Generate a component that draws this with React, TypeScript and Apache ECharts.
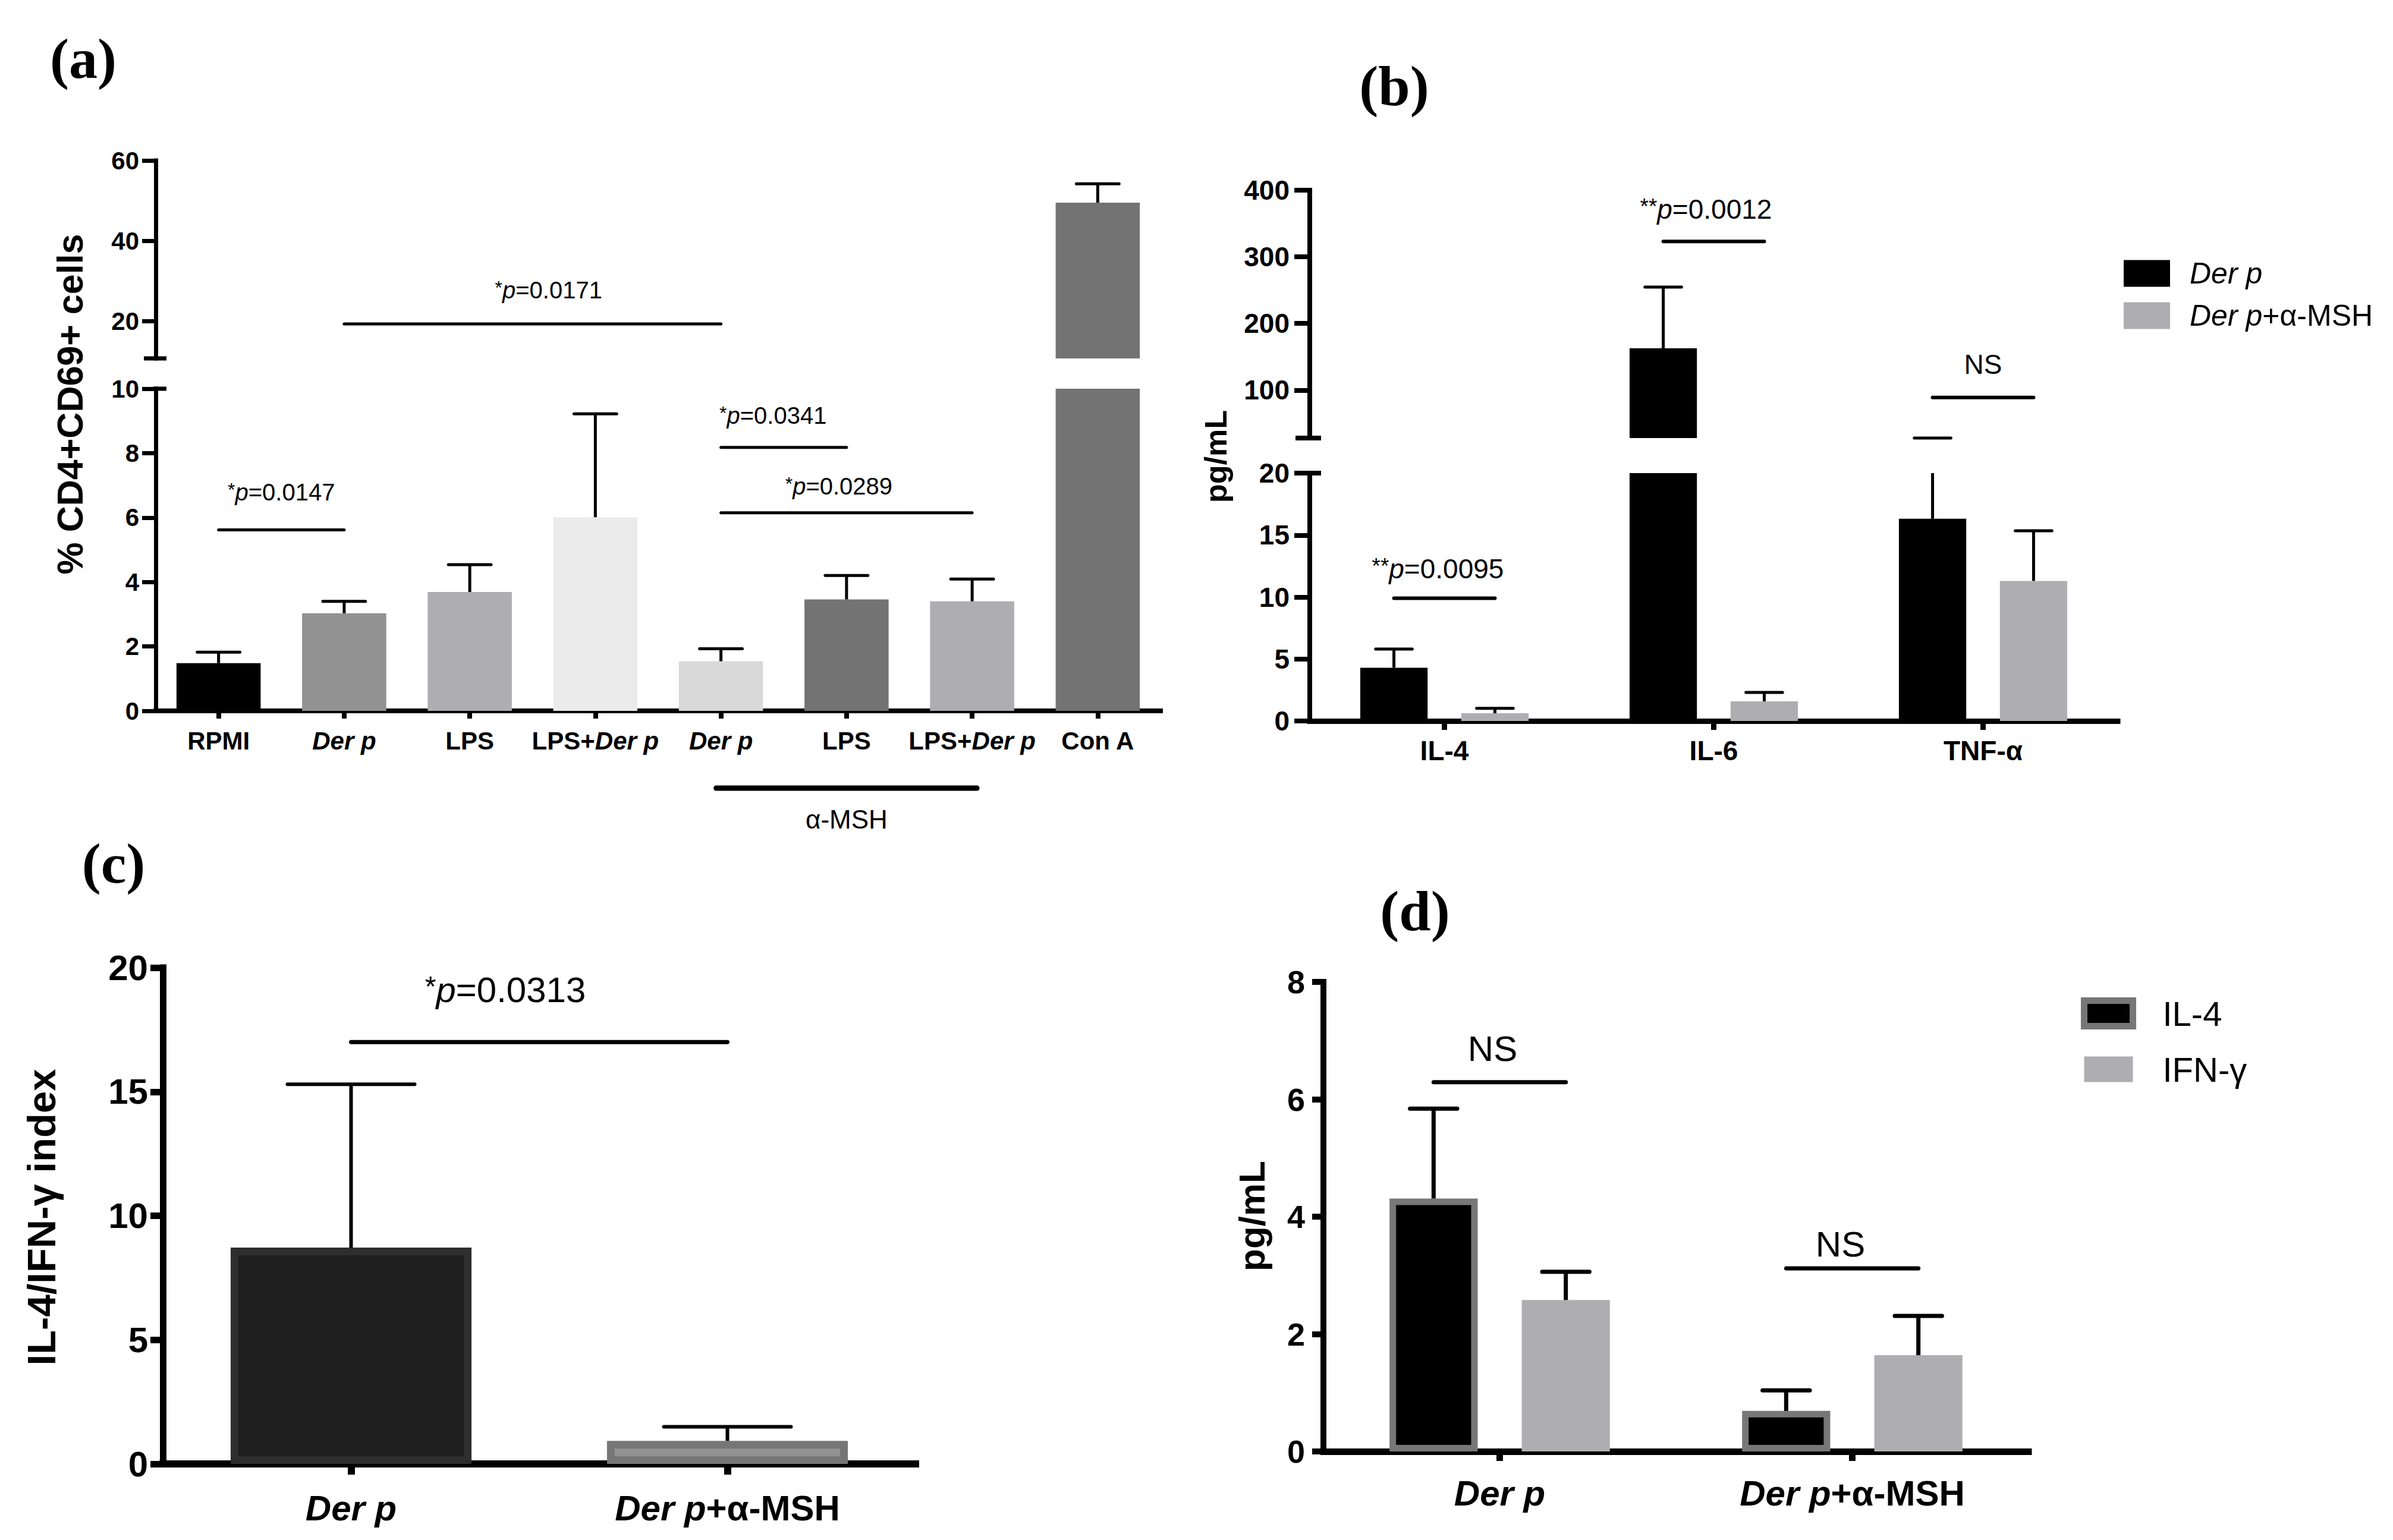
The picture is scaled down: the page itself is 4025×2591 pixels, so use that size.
import React, { useEffect, useRef } from 'react';
import * as echarts from 'echarts';

const W = 4025;
const H = 2591;
const SANS = '"Liberation Sans", Arial, Helvetica, sans-serif';
const SERIF = '"Liberation Serif", "Times New Roman", serif';
const AX = '#000000';

// ---------- Panel (a): % CD4+CD69+ cells ----------
const aCategories = ['RPMI', 'Der p', 'LPS', 'LPS+Der p', 'Der p', 'LPS', 'LPS+Der p', 'Con A'];
const aMeans = [1.48, 3.03, 3.69, 6.01, 1.54, 3.46, 3.4, 49.5];
const aErrors = [0.34, 0.37, 0.85, 3.21, 0.39, 0.74, 0.69, 4.7];
const aColors = ['#000000', '#929292', '#aeadb2', '#ebebeb', '#d9d9d9', '#737373', '#aeadb2', '#737373'];
const aUpperTicks = [20, 40, 60];
const aSigFrom = [0, 1, 4, 4];
const aSigTo = [1, 4, 5, 6];
const aSigY = [5.62, 19.3, 8.18, 6.15];
const aSigLabel = ['*p=0.0147', '*p=0.0171', '*p=0.0341', '*p=0.0289'];

// ---------- Panel (b): cytokines pg/mL ----------
const bCategories = ['IL-4', 'IL-6', 'TNF-α'];
const bDerP = [4.29, 162.6, 16.32];
const bDerPErr = [1.51, 92.1, 8.0];
const bDerPMsh = [0.62, 1.58, 11.3];
const bDerPMshErr = [0.4, 0.72, 4.05];
const bUpperTicks = [100, 200, 300, 400];
const bSigY = [9.9, 323, 88.9];
const bSigLabel = ['**p=0.0095', '**p=0.0012', 'NS'];

// ---------- Panel (c): IL-4/IFN-γ index ----------
const cCategories = ['Der p', 'Der p+α-MSH'];
const cMeans = [8.72, 0.93];
const cErrors = [6.58, 0.57];
const cSigY = [17.0];
const cSigLabel = ['*p=0.0313'];

// ---------- Panel (d): IL-4 / IFN-γ pg/mL ----------
const dCategories = ['Der p', 'Der p+α-MSH'];
const dIL4 = [4.31, 0.69];
const dIL4Err = [1.53, 0.35];
const dIFN = [2.58, 1.64];
const dIFNErr = [0.48, 0.67];
const dSigY = [6.29, 3.12];
const dSigLabel = ['NS', 'NS'];

// ---------- axis ranges ----------
const A_UP = { min: 10.7, max: 60 };
const A_LO = { min: 0, max: 10, interval: 2 };
const B_UP = { min: 28, max: 400 };
const B_LO = { min: 0, max: 20, interval: 5 };
const C_AX = { min: 0, max: 20, interval: 5 };
const D_AX = { min: 0, max: 8, interval: 2 };

// ---------- layout ----------
const GRIDS = [
  { left: 262, top: 270, width: 1690, height: 333 },
  { left: 262, top: 654, width: 1690, height: 542 },
  { left: 2203, top: 320, width: 1359, height: 417 },
  { left: 2203, top: 796, width: 1359, height: 417 },
  { left: 274, top: 1628, width: 1266, height: 835 },
  { left: 2226, top: 1652, width: 1186, height: 790 },
];

function richLabel(v: string) {
  const k = v.indexOf('Der p');
  if (k < 0) return `{b|${v}}`;
  const pre = v.slice(0, k);
  const post = v.slice(k + 5);
  return (pre ? `{b|${pre}}` : '') + '{i|Der p}' + (post ? `{b|${post}}` : '');
}

function labelRich(fs: number, weight = 'bold') {
  return {
    b: { fontSize: fs, fontWeight: weight, fontFamily: SANS, color: AX },
    i: { fontSize: fs, fontWeight: weight, fontStyle: 'italic', fontFamily: SANS, color: AX },
  };
}

function catAxis(gridIndex: number, data: string[], show: boolean, s: any) {
  return {
    type: 'category',
    gridIndex,
    data,
    show,
    boundaryGap: true,
    axisLine: { show: true, onZero: false, lineStyle: { color: AX, width: s.lw, cap: 'square' } },
    axisTick: { show: true, alignWithLabel: true, length: s.tick, lineStyle: { color: AX, width: s.lw } },
    axisLabel: { show: true, interval: 0, margin: s.margin, color: AX, formatter: richLabel, rich: labelRich(s.fs) },
    splitLine: { show: false },
  };
}

function valAxis(gridIndex: number, r: any, custom: number[] | null, s: any) {
  const ax: any = {
    type: 'value',
    gridIndex,
    min: r.min,
    max: r.max,
    axisLine: { show: true, lineStyle: { color: AX, width: s.lw, cap: 'square' } },
    axisTick: { show: true, length: s.tick, lineStyle: { color: AX, width: s.lw } },
    axisLabel: { margin: s.margin, color: AX, fontSize: s.fs, fontWeight: 'bold', fontFamily: SANS },
    splitLine: { show: false },
  };
  if (r.interval) ax.interval = r.interval;
  if (custom) {
    ax.axisTick.customValues = custom;
    ax.axisLabel.customValues = custom;
  }
  return ax;
}

function errSeries(gridIndex: number, means: number[], errs: number[], o: any) {
  return {
    type: 'custom',
    name: 'err' + gridIndex + '_' + o.offset,
    xAxisIndex: gridIndex,
    yAxisIndex: gridIndex,
    z: 4,
    silent: true,
    data: means.map((m, i) => [i, m, errs[i]]),
    encode: { x: 0, y: 1 },
    renderItem: (params: any, api: any) => {
      const i = api.value(0) as number;
      const m = api.value(1) as number;
      const e = api.value(2) as number;
      const top = m + e;
      const band = api.size([1, 0])[0];
      const half = o.cap * band;
      const cx = api.coord([i, 0])[0] + o.offset * band;
      const yOf = (v: number) => api.coord([i, v])[1];
      const st = { stroke: '#000', lineWidth: o.lw };
      const children: any[] = [];
      const capAt = (v: number) =>
        children.push({ type: 'line', shape: { x1: cx - half, y1: yOf(v), x2: cx + half, y2: yOf(v) }, style: { ...st, lineCap: 'round' } });
      if (m >= o.hi) return { type: 'group', children };
      if (top <= o.lo) {
        if (o.gapLo !== undefined && top > o.gapLo) capAt(o.lo);
        return { type: 'group', children };
      }
      const y0 = Math.max(m, o.lo);
      const y1 = Math.min(top, o.hi);
      children.push({ type: 'line', shape: { x1: cx, y1: yOf(y0), x2: cx, y2: yOf(y1) }, style: { ...st, lineCap: 'butt' } });
      if (top <= o.hi) capAt(top);
      return { type: 'group', children };
    },
  };
}

const sA = { lw: 7, tick: 23, fs: 42, margin: 28 };
const sAx = { lw: 8, tick: 13, fs: 42, margin: 29 };
const sB = { lw: 8, tick: 26, fs: 46, margin: 34 };
const sBx = { lw: 9, tick: 15, fs: 46, margin: 27 };
const sC = { lw: 11, tick: 21, fs: 60, margin: 25 };
const sCx = { lw: 12, tick: 18, fs: 60, margin: 44 };
const sD = { lw: 10, tick: 19, fs: 54, margin: 31 };
const sDx = { lw: 11, tick: 16, fs: 60, margin: 40 };

function buildOption() {
  const series: any[] = [];
  // (a)
  series.push({
    type: 'bar', name: 'a-upper', xAxisIndex: 0, yAxisIndex: 0, barWidth: '67%', clip: true,
    data: aMeans.map((v, i) => ({ value: v > A_UP.min ? v : '-', itemStyle: { color: aColors[i] } })),
  });
  series.push({
    type: 'bar', name: 'a-lower', xAxisIndex: 1, yAxisIndex: 1, barWidth: '67%', clip: true,
    data: aMeans.map((v, i) => ({ value: v, itemStyle: { color: aColors[i] } })),
  });
  series.push(errSeries(0, aMeans, aErrors, { offset: 0, cap: 0.17, lw: 5, lo: A_UP.min, hi: A_UP.max }));
  series.push(errSeries(1, aMeans, aErrors, { offset: 0, cap: 0.17, lw: 5, lo: A_LO.min, hi: A_LO.max }));

  // (b)
  const bBar = (name: string, idx: number, vals: number[], color: string, upper: boolean) => ({
    type: 'bar', name, xAxisIndex: idx, yAxisIndex: idx, barWidth: '25%', barGap: '50%', clip: true,
    itemStyle: { color },
    data: vals.map((v) => (upper ? (v > B_UP.min ? v : '-') : v)),
  });
  series.push(bBar('Der p', 2, bDerP, '#000000', true));
  series.push(bBar('Der p+α-MSH', 2, bDerPMsh, '#aeadb2', true));
  series.push(bBar('Der p', 3, bDerP, '#000000', false));
  series.push(bBar('Der p+α-MSH', 3, bDerPMsh, '#aeadb2', false));
  series.push(errSeries(2, bDerP, bDerPErr, { offset: -0.1875, cap: 0.068, lw: 5, lo: B_UP.min, hi: B_UP.max, gapLo: B_LO.max }));
  series.push(errSeries(2, bDerPMsh, bDerPMshErr, { offset: 0.1875, cap: 0.068, lw: 5, lo: B_UP.min, hi: B_UP.max, gapLo: B_LO.max }));
  series.push(errSeries(3, bDerP, bDerPErr, { offset: -0.1875, cap: 0.068, lw: 5, lo: B_LO.min, hi: B_LO.max }));
  series.push(errSeries(3, bDerPMsh, bDerPMshErr, { offset: 0.1875, cap: 0.068, lw: 5, lo: B_LO.min, hi: B_LO.max }));

  // (c)
  const cStyles = [
    { color: '#1e1e1e', borderColor: '#2e2e2e', borderWidth: 13 },
    { color: '#939393', borderColor: '#767676', borderWidth: 13 },
  ];
  series.push({
    type: 'bar', name: 'c-index', xAxisIndex: 4, yAxisIndex: 4, barWidth: '64%',
    data: cMeans.map((v, i) => ({ value: v, itemStyle: cStyles[i] })),
  });
  series.push(errSeries(4, cMeans, cErrors, { offset: 0, cap: 0.169, lw: 6, lo: C_AX.min, hi: C_AX.max }));

  // (d)
  series.push({
    type: 'bar', name: 'IL-4', xAxisIndex: 5, yAxisIndex: 5, barWidth: '25%', barGap: '50%',
    itemStyle: { color: '#000000', borderColor: '#777777', borderWidth: 11 },
    data: dIL4,
  });
  series.push({
    type: 'bar', name: 'IFN-γ', xAxisIndex: 5, yAxisIndex: 5, barWidth: '25%', barGap: '50%',
    itemStyle: { color: '#aeadb2' },
    data: dIFN,
  });
  series.push(errSeries(5, dIL4, dIL4Err, { offset: -0.1875, cap: 0.067, lw: 7, lo: D_AX.min, hi: D_AX.max }));
  series.push(errSeries(5, dIFN, dIFNErr, { offset: 0.1875, cap: 0.067, lw: 7, lo: D_AX.min, hi: D_AX.max }));

  return {
    animation: false,
    backgroundColor: '#ffffff',
    grid: GRIDS.map((g) => ({ ...g, containLabel: false })),
    xAxis: [
      catAxis(0, aCategories, false, sAx),
      catAxis(1, aCategories, true, sAx),
      catAxis(2, bCategories, false, sBx),
      catAxis(3, bCategories, true, sBx),
      catAxis(4, cCategories, true, sCx),
      catAxis(5, dCategories, true, sDx),
    ],
    yAxis: [
      valAxis(0, A_UP, aUpperTicks, sA),
      valAxis(1, A_LO, null, sA),
      valAxis(2, B_UP, bUpperTicks, sB),
      valAxis(3, B_LO, null, sB),
      valAxis(4, C_AX, null, sC),
      valAxis(5, D_AX, null, sD),
    ],
    legend: [
      {
        data: ['Der p', 'Der p+α-MSH'], orient: 'vertical', left: 3572, top: 435, padding: 0,
        itemWidth: 78, itemHeight: 45, itemGap: 21, icon: 'rect', selectedMode: false,
        formatter: (n: string) => (n === 'Der p' ? '{i|Der p}' : '{i|Der p}{n|+α-MSH}'),
        textStyle: {
          fontSize: 50, lineHeight: 50, fontFamily: SANS, color: AX, padding: [0, 0, 0, 28],
          rich: {
            i: { fontSize: 50, fontStyle: 'italic', fontFamily: SANS, color: AX },
            n: { fontSize: 50, fontFamily: SANS, color: AX },
          },
        },
      },
      {
        data: [
          { name: 'IL-4', itemStyle: { color: '#000000', borderColor: '#777777', borderWidth: 11 } },
          { name: 'IFN-γ', itemStyle: { color: '#aeadb2', borderWidth: 0 } },
        ],
        orient: 'vertical', left: 3500, top: 1676, padding: 0,
        itemWidth: 82, itemHeight: 43, itemGap: 36, icon: 'rect', selectedMode: false,
        itemStyle: { borderColor: '#777777', borderWidth: 11 },
        textStyle: { fontSize: 58, lineHeight: 58, fontFamily: SANS, color: AX, padding: [0, 0, 0, 45] },
      },
    ],
    series,
  };
}

function sigRich(label: string, fs: number) {
  const m = label.match(/^(\*+)p=(.*)$/);
  const rich = {
    s: { fontSize: fs * 0.8, fontFamily: SANS, color: AX, verticalAlign: 'top', lineHeight: fs },
    i: { fontSize: fs, fontFamily: SANS, color: AX, fontStyle: 'italic', lineHeight: fs },
    n: { fontSize: fs, fontFamily: SANS, color: AX, lineHeight: fs },
  };
  const text = m ? `{s|${m[1]}}{i|p}{n|=${m[2]}}` : `{n|${label}}`;
  return { text, rich };
}

function buildGraphics(chart: any) {
  const els: any[] = [];
  const P = (grid: number, x: number, y: number) => chart.convertToPixel({ gridIndex: grid }, [x, y]) as number[];
  const band = (grid: number) => P(grid, 1, 0)[0] - P(grid, 0, 0)[0];
  const line = (x1: number, y1: number, x2: number, y2: number, lw: number, cap = 'round') =>
    els.push({ type: 'line', silent: true, z: 10, shape: { x1, y1, x2, y2 }, style: { stroke: '#000', lineWidth: lw, lineCap: cap } });
  const text = (x: number, y: number, t: string, fs: number, extra: any = {}) =>
    els.push({
      type: 'text', silent: true, z: 10, x, y, rotation: extra.rotation || 0,
      style: {
        text: t, rich: extra.rich, fontSize: fs, fontFamily: extra.family || SANS, fontWeight: extra.weight || 'normal',
        fontStyle: extra.style || 'normal', fill: '#000', align: 'center', verticalAlign: 'middle',
        textAlign: 'center', textVerticalAlign: 'middle',
      },
    });
  const sig = (grid: number, x1: number, x2: number, yv: number, label: string, fs: number, lw: number, dy: number, dx: number) => {
    const p1 = P(grid, 0, yv);
    line(x1, p1[1], x2, p1[1], lw);
    const r = sigRich(label, fs);
    text((x1 + x2) / 2 + dx, p1[1] - dy, r.text, fs, { rich: r.rich });
  };

  // panel letters
  const letters: [string, number, number][] = [['(a)', 140, 98], ['(b)', 2345, 144], ['(c)', 191, 1452], ['(d)', 2380, 1532]];
  letters.forEach(([t, x, y]) => text(x, y, t, 96, { family: SERIF, weight: 'bold' }));

  // y titles
  text(118, 680, '% CD4+CD69+ cells', 61, { weight: 'bold', rotation: Math.PI / 2 });
  text(2045, 768, 'pg/mL', 52, { weight: 'bold', rotation: Math.PI / 2 });
  text(69, 2048, 'IL-4/IFN-γ index', 67, { weight: 'bold', rotation: Math.PI / 2 });
  text(2105, 2046, 'pg/mL', 62, { weight: 'bold', rotation: Math.PI / 2 });

  // axis break caps
  const gA0 = GRIDS[0], gB0 = GRIDS[2];
  const aUpBot = P(0, 0, A_UP.min)[1];
  const aLoTop = P(1, 0, A_LO.max)[1];
  line(gA0.left - 20, aUpBot, gA0.left + 18, aUpBot, 7, 'butt');
  line(gA0.left - 5, aLoTop, gA0.left + 18, aLoTop, 7, 'butt');
  const bUpBot = P(2, 0, B_UP.min)[1];
  const bLoTop = P(3, 0, B_LO.max)[1];
  line(gB0.left - 24, bUpBot, gB0.left + 19, bUpBot, 8, 'butt');
  line(gB0.left - 5, bLoTop, gB0.left + 19, bLoTop, 8, 'butt');

  // panel (a) significance
  const aDy = [63, 57, 54, 45];
  const aDx = [0, 27, -18, -13];
  aSigY.forEach((yv, k) => {
    const grid = yv > A_LO.max ? 0 : 1;
    const x1 = P(grid, aSigFrom[k], yv)[0];
    const x2 = P(grid, aSigTo[k], yv)[0];
    sig(grid, x1, x2, yv, aSigLabel[k], 40, 5, aDy[k], aDx[k]);
  });
  // α-MSH bracket
  const axisY = P(1, 0, 0)[1];
  const m1 = P(1, 4, 0)[0] - 8;
  const m2 = P(1, 6, 0)[0] + 8;
  line(m1, axisY + 130, m2, axisY + 130, 9);
  text(P(1, 5, 0)[0], axisY + 182, 'α-MSH', 44);

  // panel (b) significance
  const bDy = [50, 54, 56];
  const bDx = [-11, -13, 0];
  const bb = band(3);
  bSigY.forEach((yv, k) => {
    const grid = yv > B_LO.max ? 2 : 3;
    const c = P(grid, k, yv)[0];
    sig(grid, c - 0.1875 * bb, c + 0.1875 * bb, yv, bSigLabel[k], 46, 6, bDy[k], bDx[k]);
  });

  // panel (c) significance
  sig(4, P(4, 0, 0)[0], P(4, 1, 0)[0], cSigY[0], cSigLabel[0], 60, 7, 88, -57);

  // panel (d) significance
  const dDy = [56, 40];
  const dDx = [-12, -20];
  const db = band(5);
  dSigY.forEach((yv, k) => {
    const c = P(5, k, yv)[0];
    sig(5, c - 0.1875 * db, c + 0.1875 * db, yv, dSigLabel[k], 60, 7, dDy[k], dDx[k]);
  });

  return els;
}

export default function App() {
  const ref = useRef<HTMLDivElement>(null);
  useEffect(() => {
    const el = ref.current as HTMLDivElement;
    const chart = echarts.init(el, undefined, { renderer: 'svg' });
    chart.setOption(buildOption() as any);
    chart.setOption({ graphic: buildGraphics(chart) } as any);
    return () => chart.dispose();
  }, []);
  return <div ref={ref} style={{ position: 'absolute', left: 0, top: 0, width: W, height: H, background: '#fff' }} />;
}
